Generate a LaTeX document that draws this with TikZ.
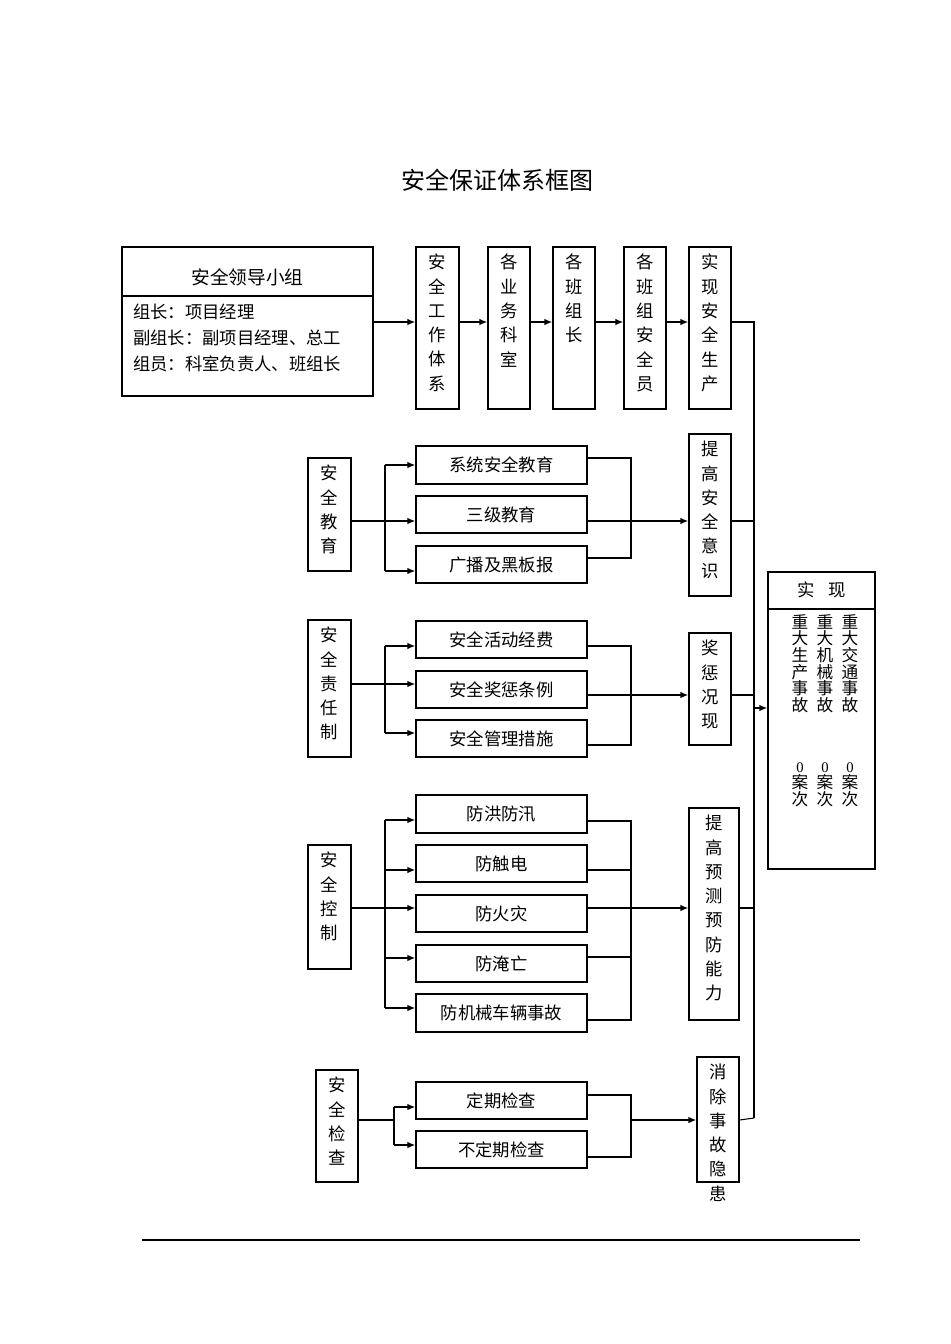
\documentclass[tikz,border=0pt]{standalone}
\usepackage{fontspec}
\setmainfont{Liberation Serif}
\newfontfamily\cjk{Noto Sans CJK SC}
\usetikzlibrary{arrows.meta,calc}
\newcommand\bx[6]{\pgfmathsetmacro\bw{(#4-#2)*0.75}\pgfmathsetmacro\bh{(#5-#3)*0.75}\node[box,minimum width=\bw pt,minimum height=\bh pt] (#1) at ({(#2+#4)/2},{(#3+#5)/2}) {#6};}
\newcommand\vb[6]{\pgfmathsetmacro\bw{(#4-#2)*0.75}\pgfmathsetmacro\bh{(#5-#3)*0.75}\node[box,minimum width=\bw pt,minimum height=\bh pt] (#1) at ({(#2+#4)/2},{(#3+#5)/2}) {};\node[vtext,anchor=north] (#1t) at ({(#2+#4)/2},{#3+7}) {#6};}
\begin{document}
\begin{tikzpicture}[x=0.75pt,y=-0.75pt,
 box/.style={draw,line width=0.9pt,inner sep=0pt,font=\cjk\fontsize{13}{16}\selectfont},
 vtext/.style={inner sep=0pt,align=center,font=\cjk\fontsize{13}{18.2}\selectfont},
 arr/.style={line width=1.2pt,-{Latex[length=6pt,width=5pt]}},
 ln/.style={line width=0.8pt}]
\useasboundingbox (0,0) rectangle (950,1344);
\node[font=\cjk\fontsize{18}{20}\selectfont] (title) at (497,180) {安全保证体系框图};
% leader
\bx{lead}{122}{247}{373}{396}{}
\coordinate (d1) at (122,296); \coordinate (d2) at (373,296);
\draw[line width=0.9pt] (d1) -- (d2);
\node[font=\cjk\fontsize{14}{16}\selectfont] (leadt) at (247.5,277) {安全领导小组};
\node[anchor=north west,align=left,inner sep=0pt,font=\cjk\fontsize{13}{19.5}\selectfont] (leadb) at (133,304) {组长：项目经理\\副组长：副项目经理、总工\\组员：科室负责人、班组长};
% column boxes
\vb{A}{416}{247}{459}{409}{安\\全\\工\\作\\体\\系}
\vb{B}{488}{247}{530}{409}{各\\业\\务\\科\\室}
\vb{C}{553}{247}{595}{409}{各\\班\\组\\长}
\vb{D}{624}{247}{666}{409}{各\\班\\组\\安\\全\\员}
\vb{E}{689}{247}{731}{409}{实\\现\\安\\全\\生\\产}
\coordinate (l1) at (373,322);
\draw[arr] (l1) -- (l1 -| A.west);
\draw[arr] (l1 -| A.east) -- (l1 -| B.west);
\draw[arr] (l1 -| B.east) -- (l1 -| C.west);
\draw[arr] (l1 -| C.east) -- (l1 -| D.west);
\draw[arr] (l1 -| D.east) -- (l1 -| E.west);
\coordinate (bt) at (754,322); \coordinate (bb) at (754,1118);
\draw[ln] (l1 -| E.east) -- (bt) -- (bb);
% final box
\bx{F}{768}{572}{875}{869}{}
\coordinate (f1) at (768,609); \coordinate (f2) at (875,609);
\draw[line width=0.9pt] (f1) -- (f2);
\node[font=\cjk\fontsize{13}{16}\selectfont] (Ft) at (821.5,590) {实\hspace{0.8em}现};
\node[vtext,anchor=north,font=\cjk\fontsize{12.5}{12.5}\selectfont] (F1) at (800,614) {重\\大\\生\\产\\事\\故};
\node[vtext,anchor=north,font=\cjk\fontsize{12.5}{12.5}\selectfont] (F2) at (825,614) {重\\大\\机\\械\\事\\故};
\node[vtext,anchor=north,font=\cjk\fontsize{12.5}{12.5}\selectfont] (F3) at (850,614) {重\\大\\交\\通\\事\\故};
\node[vtext,anchor=north,font=\cjk\fontsize{12.5}{12.5}\selectfont] (G1) at (800,762) {{\rmfamily\fontsize{11}{9}\selectfont 0}\\案\\次};
\node[vtext,anchor=north,font=\cjk\fontsize{12.5}{12.5}\selectfont] (G2) at (825,762) {{\rmfamily\fontsize{11}{9}\selectfont 0}\\案\\次};
\node[vtext,anchor=north,font=\cjk\fontsize{12.5}{12.5}\selectfont] (G3) at (850,762) {{\rmfamily\fontsize{11}{9}\selectfont 0}\\案\\次};
\coordinate (fa) at (754,708);
\draw[arr] (fa) -- (fa -| F.west);
% education
\vb{S1}{308}{458}{351}{571}{安\\全\\教\\育}
\bx{a1}{416}{446}{587}{484}{系统安全教育}
\bx{a2}{416}{496}{587}{533}{三级教育}
\bx{a3}{416}{546}{587}{583}{广播及黑板报}
\vb{T1}{689}{434}{731}{596}{提\\高\\安\\全\\意\\识}
\coordinate (s1) at (351,521); \coordinate (b1t) at (385,465); \coordinate (b1b) at (385,571);
\draw[ln] (b1t) -- (b1b);
\draw[arr] (b1t) -- (b1t -| a1.west);
\draw[arr] (s1) -- (s1 -| a2.west);
\draw[arr] (b1b) -- (b1b -| a3.west);
\coordinate (c1t) at (631,458); \coordinate (c1b) at (631,558);
\draw[ln] (c1t -| a1.east) -- (c1t) -- (c1b) -- (c1b -| a3.east);
\draw[arr] (s1 -| a2.east) -- (s1 -| T1.west);
\draw[ln] (s1 -| T1.east) -- (s1 -| bt);
% responsibility
\vb{S2}{308}{620}{351}{757}{安\\全\\责\\任\\制}
\bx{r1}{416}{621}{587}{658}{安全活动经费}
\bx{r2}{416}{671}{587}{708}{安全奖惩条例}
\bx{r3}{416}{720}{587}{757}{安全管理措施}
\vb{T2}{689}{633}{731}{745}{奖\\惩\\况\\现}
\coordinate (s2) at (351,684); \coordinate (b2t) at (385,646); \coordinate (b2b) at (385,733);
\draw[ln] (b2t) -- (b2b);
\draw[arr] (b2t) -- (b2t -| r1.west);
\draw[arr] (s2) -- (s2 -| r2.west);
\draw[arr] (b2b) -- (b2b -| r3.west);
\coordinate (c2t) at (631,646); \coordinate (c2b) at (631,745); \coordinate (s2r) at (587,695);
\draw[ln] (c2t -| r1.east) -- (c2t) -- (c2b) -- (c2b -| r3.east);
\draw[arr] (s2r) -- (s2r -| T2.west);
\draw[ln] (s2r -| T2.east) -- (s2r -| bt);
% control
\vb{S3}{308}{845}{351}{969}{安\\全\\控\\制}
\bx{k1}{416}{795}{587}{833}{防洪防汛}
\bx{k2}{416}{845}{587}{882}{防触电}
\bx{k3}{416}{895}{587}{932}{防火灾}
\bx{k4}{416}{945}{587}{982}{防淹亡}
\bx{k5}{416}{994}{587}{1032}{防机械车辆事故}
\vb{T3}{689}{808}{739}{1020}{提\\高\\预\\测\\预\\防\\能\\力}
\coordinate (s3) at (351,908); \coordinate (b3t) at (385,820); \coordinate (b3b) at (385,1008);
\coordinate (b32) at (385,870); \coordinate (b34) at (385,958);
\draw[ln] (b3t) -- (b3b);
\draw[arr] (b3t) -- (b3t -| k1.west);
\draw[arr] (b32) -- (b32 -| k2.west);
\draw[arr] (s3) -- (s3 -| k3.west);
\draw[arr] (b34) -- (b34 -| k4.west);
\draw[arr] (b3b) -- (b3b -| k5.west);
\coordinate (c3t) at (631,821); \coordinate (c3b) at (631,1020);
\coordinate (c32) at (631,870); \coordinate (c34) at (631,957);
\draw[ln] (c3t -| k1.east) -- (c3t) -- (c3b) -- (c3b -| k5.east);
\draw[ln] (c32 -| k2.east) -- (c32);
\draw[ln] (c34 -| k4.east) -- (c34);
\draw[arr] (s3 -| k3.east) -- (s3 -| T3.west);
\draw[ln] (s3 -| T3.east) -- (s3 -| bt);
% check
\vb{S4}{316}{1070}{358}{1182}{安\\全\\检\\查}
\bx{q1}{416}{1082}{587}{1119}{定期检查}
\bx{q2}{416}{1131}{587}{1168}{不定期检查}
\vb{T4}{697}{1057}{739}{1182}{消\\除\\事\\故\\隐\\患}
\coordinate (s4) at (358,1120); \coordinate (b4) at (394,1120);
\coordinate (b4t) at (394,1107); \coordinate (b4b) at (394,1145);
\draw[ln] (s4) -- (b4); \draw[ln] (b4t) -- (b4b);
\draw[arr] (b4t) -- (b4t -| q1.west);
\draw[arr] (b4b) -- (b4b -| q2.west);
\coordinate (c4t) at (631,1095); \coordinate (c4b) at (631,1157); \coordinate (c4) at (631,1120);
\draw[ln] (c4t -| q1.east) -- (c4t) -- (c4b) -- (c4b -| q2.east);
\draw[arr] (c4) -- (c4 -| T4.west);
\draw[ln] (c4 -| T4.east) -- (bb);
% bottom rule
\coordinate (h1) at (142,1240); \coordinate (h2) at (860,1240);
\draw[line width=1.6pt] (h1) -- (h2);
\end{tikzpicture}
\end{document}
